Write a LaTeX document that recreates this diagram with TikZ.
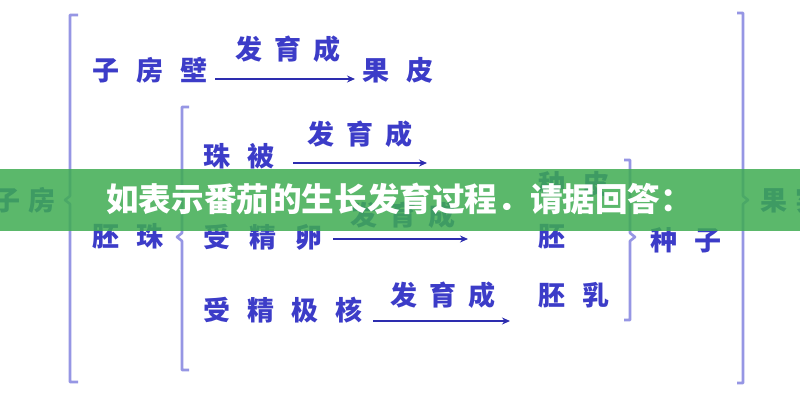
\documentclass[tikz,border=0pt]{standalone}
\usepackage{fontspec}
\newfontfamily\cjk{Noto Sans CJK SC}
\usetikzlibrary{arrows.meta}
\definecolor{txt}{RGB}{60,60,200}
\definecolor{brk}{RGB}{150,150,228}
\definecolor{arw}{RGB}{45,45,175}
\definecolor{band}{RGB}{63,172,82}
\newcommand\gp{\hspace{17pt}}
\newcommand\gq{\hspace{12pt}}
\begin{document}
\begin{tikzpicture}[x=1pt,y=-1pt,
  lbl/.style={inner sep=0pt,anchor=west,text=txt,font=\cjk\bfseries\fontsize{27}{27}\selectfont},
  arr/.style={draw=arw,line width=2.8pt,-{Stealth[length=8pt,width=7pt]}},
  bracebar/.style={draw=brk,line width=2.6pt,line join=round},
  bandtext/.style={inner sep=0pt,anchor=west,text=white,font=\cjk\bfseries\fontsize{32.6}{32.6}\selectfont}]
\useasboundingbox[fill=white] (0,0) rectangle (800,400);

% labels
\node[lbl,anchor=east] (zf) at (56,200) {子\hspace{8pt}房};
\node[lbl] (gs) at (760,200) {果\hspace{8pt}实};
\node[lbl] (zfb) at (92,70) {子\gp 房\gp 壁};
\node[lbl] (gp) at (362,70) {果\gp 皮};
\node[lbl] (fy1) at (235,49) {发\gq 育\gq 成};
\node[lbl] (pz) at (92,236) {胚\gp 珠};
\node[lbl] (zb) at (203,156) {珠\gp 被};
\node[lbl] (fy2) at (307,134) {发\gq 育\gq 成};
\node[lbl] (zp) at (538,184) {种\gp 皮};
\node[lbl] (sjl) at (203,237) {受\hspace{19pt}精\hspace{19pt}卵};
\node[lbl] (fy3) at (350,215) {发\gq 育\gq 成};
\node[lbl] (pei) at (538,237) {胚};
\node[lbl] (sjjh) at (203,310) {受\gp 精\gp 极\gp 核};
\node[lbl] (fy4) at (390,295) {发\gq 育\gq 成};
\node[lbl] (pr) at (538,295) {胚\gp 乳};
\node[lbl] (zz) at (650,240) {种\gp 子};

% arrows
\coordinate (s1) at (215,79);  \coordinate (e1) at (355,79);
\coordinate (s2) at (293,163); \coordinate (e2) at (427,163);
\coordinate (s3) at (333,239); \coordinate (e3) at (468,239);
\coordinate (s4) at (373,321); \coordinate (e4) at (510,321);
\draw[arr] (s1) -- (e1);
\draw[arr] (s2) -- (e2);
\draw[arr] (s3) -- (e3);
\draw[arr] (s4) -- (e4);

% brackets
\draw[bracebar] (78,15) -- (70,15) -- (70,196) -- (65,200) -- (70,204) -- (70,382) -- (78,382);
\draw[bracebar] (189,107) -- (182,107) -- (182,233) -- (177,237) -- (182,241) -- (182,370) -- (189,370);
\draw[bracebar] (624,160) -- (630,160) -- (630,233) -- (635,237) -- (630,241) -- (630,320) -- (624,320);
\draw[bracebar] (737,13) -- (743,13) -- (743,196) -- (748,200) -- (743,204) -- (743,383) -- (737,383);

% banner
\fill[band,opacity=0.85] (0,169) rectangle (800,231);
\node[bandtext] (title) at (106,199) {如表示番茄的生长发育过程．请据回答：};
\end{tikzpicture}
\end{document}
